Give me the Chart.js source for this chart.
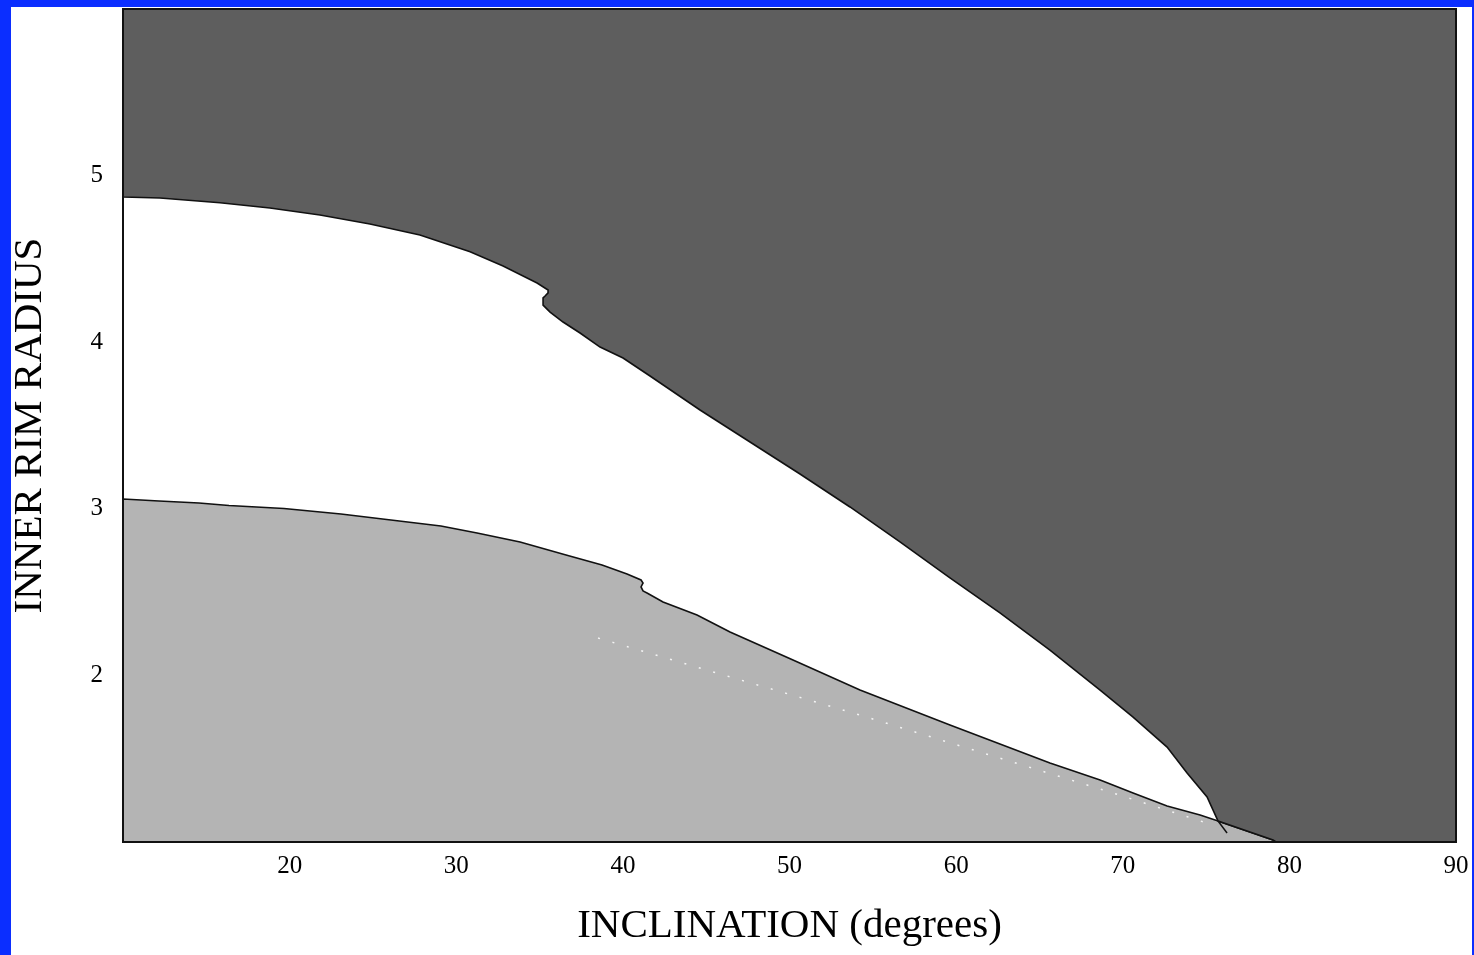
<!DOCTYPE html>
<html>
<head>
<meta charset="utf-8">
<script src="https://cdn.jsdelivr.net/npm/chart.js@4/dist/chart.umd.min.js"></script>
<style>
  html, body { margin: 0; padding: 0; background: #ffffff; }
  canvas { display: block; }
</style>
</head>
<body>
<canvas id="c" width="1474" height="955"></canvas>
<script>
// ---- Data ----
const xRange = [10, 90];
const yRange = [1, 6];
const xTickValues = [20, 30, 40, 50, 60, 70, 80, 90];
const yTickValues = [2, 3, 4, 5];

// Upper boundary (dark region / white region)
const upperX = [10, 12.22, 15.82, 18.82, 21.82, 24.82, 27.82, 30.83, 32.81, 34.85, 35.51, 35.51, 35.33, 35.21, 35.21, 35.63, 36.41, 37.43, 38.63, 40.01, 41.63, 44.63, 47.63, 50.63, 53.63, 56.63, 59.63, 62.63, 65.63, 68.64, 70.62, 72.66, 73.86, 75.06, 75.72];
const upperY = [4.872, 4.866, 4.837, 4.806, 4.764, 4.710, 4.643, 4.543, 4.457, 4.355, 4.313, 4.296, 4.277, 4.266, 4.223, 4.181, 4.121, 4.055, 3.971, 3.905, 3.797, 3.593, 3.401, 3.209, 3.011, 2.801, 2.585, 2.375, 2.152, 1.912, 1.750, 1.570, 1.414, 1.270, 1.126];

// Lower boundary (white region / light gray region)
const lowerX = [10, 12.16, 14.56, 16.36, 19.66, 23.08, 26.08, 29.08, 31.25, 33.83, 36.59, 38.75, 40.25, 41.09, 41.21, 41.09, 41.21, 41.45, 42.41, 44.45, 46.43, 50.21, 54.23, 59.63, 65.63, 68.64, 70.62, 72.66, 74.64, 75.72];
const lowerY = [3.059, 3.047, 3.035, 3.020, 3.002, 2.969, 2.933, 2.897, 2.855, 2.801, 2.723, 2.663, 2.609, 2.573, 2.555, 2.531, 2.507, 2.495, 2.441, 2.363, 2.261, 2.092, 1.912, 1.702, 1.474, 1.372, 1.294, 1.216, 1.162, 1.126];

// Shared edge from where the curves meet down to the x axis
const meetX = [75.72, 79.02, 79.2];
const meetY = [1.126, 1.012, 1.0];

// Short continuation of the upper curve into the light region
const tailX = [75.72, 76.26];
const tailY = [1.126, 1.054];

// Faint dotted line inside the light gray region
const dotX = [38.51, 54.23, 69.42, 75.42];
const dotY = [2.224, 1.762, 1.294, 1.102];

// ---- Styling ----
const BLUE = '#0b2eff';
const DARK = '#5e5e5e';
const LIGHT = '#b4b4b4';
const SERIF = '"Liberation Serif", "Times New Roman", serif';

const pts = (xs, ys) => xs.map((x, i) => ({ x, y: ys[i] }));

const darkPoly = [{ x: xRange[0], y: yRange[1] }]
  .concat(pts(upperX, upperY))
  .concat(pts(meetX, meetY).slice(1))
  .concat([{ x: xRange[1], y: yRange[0] }, { x: xRange[1], y: yRange[1] }]);

const lightPoly = [{ x: xRange[0], y: yRange[0] }]
  .concat(pts(lowerX, lowerY))
  .concat(pts(meetX, meetY).slice(1));

const framePlugin = {
  id: 'frame',
  beforeDraw(chart) {
    const ctx = chart.ctx;
    ctx.save();
    ctx.fillStyle = '#ffffff';
    ctx.fillRect(0, 0, chart.width, chart.height);
    ctx.fillStyle = BLUE;
    ctx.fillRect(0, 0, 11, chart.height);
    ctx.fillRect(0, 0, chart.width, 7);
    ctx.fillRect(chart.width - 2, 0, 2, chart.height);
    ctx.restore();
  },
  afterDatasetsDraw(chart) {
    const { left, top, right, bottom } = chart.chartArea;
    const ctx = chart.ctx;
    ctx.save();
    ctx.strokeStyle = '#111';
    ctx.lineWidth = 2;
    ctx.strokeRect(left, top, right - left, bottom - top);
    ctx.restore();
  }
};

const zeroPad = (s) => { s.paddingTop = 0; s.paddingBottom = 0; s.paddingLeft = 0; s.paddingRight = 0; };

const common = { showLine: true, pointRadius: 0, pointHoverRadius: 0, tension: 0 };

new Chart(document.getElementById('c'), {
  type: 'scatter',
  data: {
    datasets: [
      Object.assign({}, common, {
        label: 'dotted',
        data: pts(dotX, dotY),
        borderColor: 'rgba(255,255,255,0.85)',
        borderWidth: 1.5,
        borderDash: [2, 13],
        fill: false
      }),
      Object.assign({}, common, {
        label: 'tail',
        data: pts(tailX, tailY),
        borderColor: '#111',
        borderWidth: 1.5,
        fill: false
      }),
      Object.assign({}, common, {
        label: 'dark',
        data: darkPoly,
        borderColor: '#111',
        borderWidth: 1.6,
        backgroundColor: DARK,
        fill: 'shape'
      }),
      Object.assign({}, common, {
        label: 'light',
        data: lightPoly,
        borderColor: '#111',
        borderWidth: 1.6,
        backgroundColor: LIGHT,
        fill: 'shape'
      })
    ]
  },
  options: {
    responsive: false,
    animation: false,
    devicePixelRatio: 1,
    layout: { padding: { left: 0, top: 9, right: 18, bottom: 0 } },
    plugins: { legend: { display: false }, tooltip: { enabled: false } },
    scales: {
      x: {
        type: 'linear',
        min: xRange[0],
        max: xRange[1],
        afterBuildTicks: (s) => { s.ticks = [{ value: xRange[0] }].concat(xTickValues.map(v => ({ value: v }))); },
        ticks: {
          callback: (v) => (xTickValues.includes(v) ? String(v) : ''),
          font: { family: SERIF, size: 25 },
          color: '#000',
          padding: 9,
          maxRotation: 0,
          autoSkip: false
        },
        grid: { display: false, drawTicks: false },
        border: { display: false },
        title: {
          display: true,
          text: 'INCLINATION (degrees)',
          font: { family: SERIF, size: 41 },
          color: '#000',
          padding: { top: 0, bottom: 4 }
        },
        afterFit: (s) => { s.height = 113; zeroPad(s); }
      },
      y: {
        type: 'linear',
        min: yRange[0],
        max: yRange[1],
        afterBuildTicks: (s) => { s.ticks = yTickValues.map(v => ({ value: v })); },
        ticks: {
          callback: (v) => String(v),
          font: { family: SERIF, size: 25 },
          color: '#000',
          padding: 20,
          autoSkip: false
        },
        grid: { display: false, drawTicks: false },
        border: { display: false },
        title: {
          display: true,
          text: 'INNER RIM RADIUS',
          font: { family: SERIF, size: 41 },
          color: '#000',
          padding: { top: 6, bottom: 0 }
        },
        afterFit: (s) => { s.width = 123; zeroPad(s); }
      }
    }
  },
  plugins: [framePlugin]
});
</script>
</body>
</html>
